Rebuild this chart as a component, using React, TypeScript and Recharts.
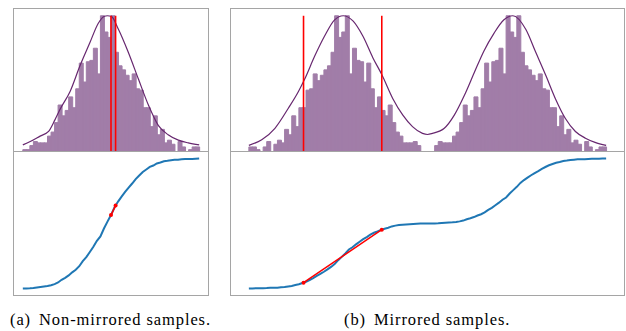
import React from 'react';
import { ComposedChart, LineChart, Bar, Line, XAxis, YAxis, ReferenceLine } from 'recharts';

// histogram counts, non-mirrored samples (50 bins)
const binsA = [
  1, 1, 4, 7, 6, 6, 6, 11, 14, 21, 34, 26, 30, 40, 32, 46, 65, 51, 66, 67, 76, 57, 100, 88, 84,
  100, 73, 63, 60, 56, 52, 57, 46, 45, 32, 32, 18, 26, 12, 16, 6, 8, 5, 0, 7, 3, 0, 1, 3, 3,
];

// histogram counts, mirrored samples (100 bins)
const binsB = [
  3, 3, 1, 0, 3, 7, 0, 5, 8, 6, 16, 12, 26, 18, 32, 32, 45, 46, 57, 52, 56, 60, 63, 73, 100,
  84, 88, 100, 57, 76, 67, 66, 51, 65, 46, 32, 40, 30, 26, 34, 21, 14, 11, 6, 6, 6, 7, 4, 0, 0,
  0, 0, 4, 7, 6, 6, 6, 11, 14, 21, 34, 26, 30, 40, 32, 46, 65, 51, 66, 67, 76, 57, 100, 88, 84,
  100, 73, 63, 60, 56, 52, 57, 46, 45, 32, 32, 18, 26, 12, 16, 6, 8, 5, 0, 7, 3, 0, 1, 3, 3,
];

// fitted density curves (x in bin units, y in count units)
const fitAX = [0, 2.1, 4.9, 7.3, 9.1, 10.6, 13.4, 16.2, 19.0, 21.4, 23.0, 24.0, 25.1, 27.1, 29.9, 32.8, 35.6, 38.4, 41.2, 44.1, 46.9, 50];
const fitAY = [4.5, 7, 11, 14.5, 23, 31, 44, 63, 80, 94.5, 99.5, 100, 99.5, 90, 73, 53, 34, 19, 12, 8, 6, 4.5];

const fitBX = [
  0, 3.6, 7.3, 11.0, 13.8, 15.6, 18.4, 21.2, 24.0, 26.4, 29.2, 31.9, 34.7, 37.3, 40.3, 43.1, 45.8, 48.6, 50,
  51.4, 54.7, 57.5, 60.3, 63.1, 65.8, 68.6, 71.4, 73.9, 77.5, 80.3, 83.1, 85.8, 88.6, 91.4, 94.2, 96.9, 100,
];
const fitBY = [
  4.2, 8.3, 16.8, 31.4, 43.6, 53, 70, 85, 97, 100, 96, 85, 69, 56, 38.7, 26.5, 18, 13, 12.2,
  13, 16.8, 26.5, 41, 58, 74, 87, 97, 100, 90, 73, 56, 38.7, 24, 14.4, 9.5, 6.4, 4.2,
];

// red markers (x in bin units)
const redA = [25.0, 26.3];
const redB = [15.3, 37.2];

const captionA = ['(a)', 'Non-mirrored samples.'];
const captionB = ['(b)', 'Mirrored samples.'];

const PURPLE = '#67276f';
const BAR = '#a17da8';
const RED = '#ff0000';
const BLUE = '#1f77b4';
const FRAME = '#a5a5a5';

const M = { top: 0, right: 0, bottom: 0, left: 0 };

function cdfRows(bins: number[]) {
  const total = bins.reduce((s, v) => s + v, 0);
  let acc = 0;
  const rows = [{ x: 0, p: 0 }];
  bins.forEach((v, i) => {
    acc += v;
    rows.push({ x: i + 1, p: acc / total });
  });
  return rows;
}

function cdfAt(rows: { x: number; p: number }[], x: number) {
  const i = Math.floor(x);
  const t = x - i;
  return rows[i].p + t * (rows[i + 1].p - rows[i].p);
}

type PanelProps = { left: number; innerW: number; bins: number[]; fitX: number[]; fitY: number[]; red: number[] };

const Panel = ({ left, innerW, bins, fitX, fitY, red }: PanelProps) => {
  const n = bins.length;
  const pad = n * 0.05;
  const domain: [number, number] = [-pad, n + pad];
  const padPx = (innerW * pad) / (n + 2 * pad);
  const histRows = bins.map((c, i) => ({ bin: i, count: c }));
  const fitRows = fitX.map((x, i) => ({ x, fit: fitY[i] }));
  const cdf = cdfRows(bins);
  const redRows = red.map((x) => ({ x, p: cdfAt(cdf, x) }));

  return (
    <div style={{ position: 'absolute', left, top: 8 }}>
      <div style={{ border: `1px solid ${FRAME}`, width: innerW, height: 142 }}>
        <ComposedChart width={innerW} height={142} data={histRows} margin={M} barCategoryGap={0} barGap={0}>
          <XAxis xAxisId="cat" dataKey="bin" type="category" hide padding={{ left: padPx, right: padPx }} />
          <XAxis xAxisId="num" dataKey="x" type="number" domain={domain} hide allowDataOverflow />
          <YAxis type="number" domain={[0, 105]} hide allowDataOverflow />
          <Bar
            xAxisId="cat"
            dataKey="count"
            fill={BAR}
            stroke={BAR}
            strokeWidth={1}
            isAnimationActive={false}
          />
          <Line
            xAxisId="num"
            data={fitRows}
            dataKey="fit"
            type="monotone"
            stroke={PURPLE}
            strokeWidth={1.2}
            dot={false}
            isAnimationActive={false}
          />
          {red.map((x) => (
            <ReferenceLine
              key={x}
              xAxisId="num"
              segment={[{ x, y: 0 }, { x, y: 100 }]}
              stroke={RED}
              strokeWidth={1.6}
            />
          ))}
        </ComposedChart>
      </div>
      <div
        style={{
          borderLeft: `1px solid ${FRAME}`,
          borderRight: `1px solid ${FRAME}`,
          borderBottom: `1px solid ${FRAME}`,
          width: innerW,
          height: 143,
        }}
      >
        <LineChart width={innerW} height={143} data={cdf} margin={M}>
          <XAxis dataKey="x" type="number" domain={domain} hide allowDataOverflow />
          <YAxis type="number" domain={[-0.05, 1.05]} hide allowDataOverflow />
          <Line dataKey="p" type="linear" stroke={BLUE} strokeWidth={2} dot={false} isAnimationActive={false} />
          <Line
            data={redRows}
            dataKey="p"
            type="linear"
            stroke={RED}
            strokeWidth={1.5}
            dot={{ r: 2, fill: RED, stroke: RED, strokeWidth: 0 }}
            isAnimationActive={false}
          />
        </LineChart>
      </div>
    </div>
  );
};

const captionStyle: React.CSSProperties = {
  position: 'absolute',
  top: 310,
  fontFamily: '"Liberation Serif", serif',
  fontSize: 16.5,
  lineHeight: '20px',
  letterSpacing: 0.9,
  whiteSpace: 'nowrap',
  color: '#000',
};

export default function App() {
  return (
    <div>
      <Panel left={13} innerW={194} bins={binsA} fitX={fitAX} fitY={fitAY} red={redA} />
      <Panel left={230} innerW={393} bins={binsB} fitX={fitBX} fitY={fitBY} red={redB} />
      <div style={{ ...captionStyle, left: 10 }}>
        <span>{captionA[0]}</span>
        <span style={{ marginLeft: 8 }}>{captionA[1]}</span>
      </div>
      <div style={{ ...captionStyle, left: 344 }}>
        <span>{captionB[0]}</span>
        <span style={{ marginLeft: 8 }}>{captionB[1]}</span>
      </div>
    </div>
  );
}
